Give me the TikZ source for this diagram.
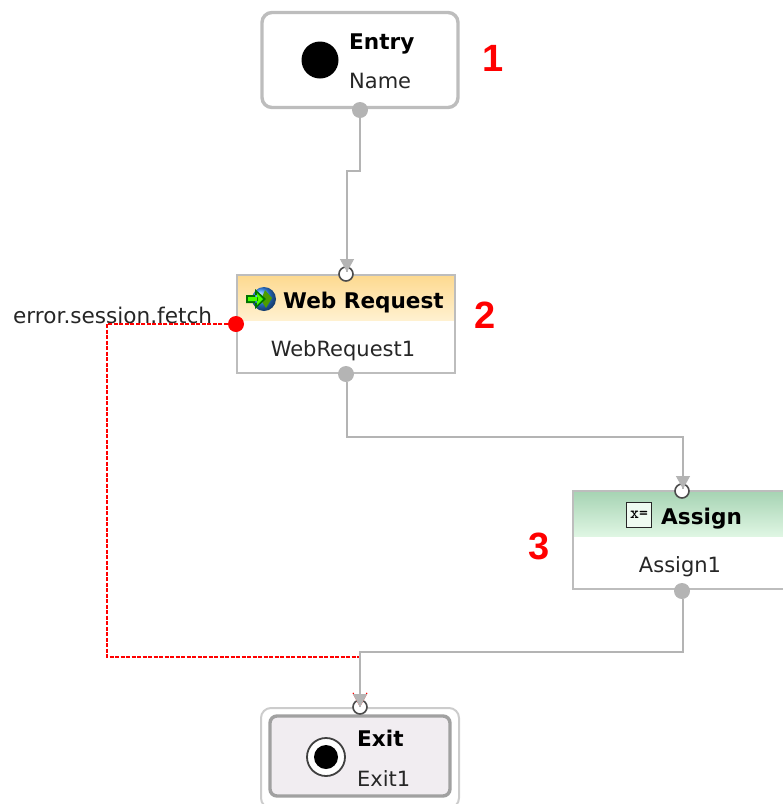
\documentclass[tikz,border=0pt]{standalone}
\usepackage{fontspec}
\setmainfont{DejaVu Sans}
\newfontfamily\numfont{Liberation Sans}
\usetikzlibrary{arrows.meta,shadings}
\definecolor{edgegray}{HTML}{B4B4B4}
\definecolor{boxgray}{HTML}{BDBDBD}
\definecolor{exitfill}{HTML}{F1EDF1}
\definecolor{webtop}{HTML}{FDD98F}
\definecolor{webbot}{HTML}{FFF1D0}
\definecolor{gtop}{HTML}{A6D3B3}
\definecolor{gbot}{HTML}{DFF6E3}
\definecolor{hatchg}{HTML}{EFFBF1}
\tikzset{
  x=1pt,y=-1pt,
  port/.style={circle,inner sep=0pt,minimum size=16pt,draw=none,fill=edgegray},
  inport/.style={circle,inner sep=0pt,minimum size=14pt,draw=black!70,line width=1.6pt,fill=white},
  errport/.style={circle,inner sep=0pt,minimum size=16pt,fill=red},
  wire/.style={draw=edgegray,line width=1.3pt},
  wirearrow/.style={wire,-{Triangle[length=13pt,width=14pt,color=edgegray]}},
  errwire/.style={draw=red,line width=1.1pt,dash pattern=on 4pt off 1.5pt},
  errarrow/.style={errwire,-{Straight Barb[length=13pt,width=14pt,color=red]}},
  title/.style={font=\bfseries\fontsize{21.6}{24}\selectfont,inner sep=0pt,anchor=base west},
  sub/.style={font=\fontsize{21}{24}\selectfont,inner sep=0pt,anchor=base west,text=black!85},
  num/.style={font=\numfont\bfseries\fontsize{38}{40}\selectfont,text=red,inner sep=0pt,anchor=base},
  plainbox/.style={rectangle,draw=boxgray,line width=1.4pt,inner sep=0pt},
  roundbox/.style={rectangle,rounded corners=10pt,inner sep=0pt},
}
\begin{document}
\begin{tikzpicture}
\useasboundingbox (0,0) rectangle (783,804);
\clip (0,0) rectangle (783,804);

% Entry
\node[roundbox,draw=boxgray,line width=3.4pt,fill=white,minimum width=196pt,minimum height=95pt] (entry) at (360,60) {};
\node[circle,fill=black,minimum size=37pt,inner sep=0pt] (entrydot) at (320,60) {};
\node[title] (entrytitle) at (349,49) {Entry};
\node[sub] (entryname) at (349,88) {Name};
\node[num] (n1) at (493,71) {1};

% Web Request
\fill[top color=webtop,bottom color=webbot] (237,275) rectangle (455,320);
\node[plainbox,minimum width=218pt,minimum height=98pt] (web) at (346,324) {};
\shade[ball color=blue!55!cyan!80!white] (264,299) circle (12pt);
\fill[green!45!black!70!yellow] (265,290) -- (272,298) -- (266,308) -- (261,300) -- cycle;
\fill[black!55!green] (246,295) rectangle (257,303) (255,289) -- (266,299) -- (255,309) -- cycle;
\fill[green!70!yellow] (248,297) rectangle (258,301) (257,293) -- (263,299) -- (257,305) -- cycle;
\node[title] (webtitle) at (283,308) {Web Request};
\node[sub,anchor=base] (webname) at (343,356) {WebRequest1};
\node[num] (n2) at (485,328) {2};

% Assign
\fill[top color=gtop,bottom color=gbot] (573,491) rectangle (783,536);
\draw[draw=boxgray,line width=1.4pt] (783,491) -- (573,491) -- (573,589) -- (783,589);
\node[rectangle,draw=black!85,fill=hatchg,line width=1.2pt,minimum width=25pt,minimum height=25pt,inner sep=0pt,font=\ttfamily\bfseries\fontsize{17}{17}\selectfont] (assignicon) at (639,515) {x=};
\node[title] (assigntitle) at (661,524) {Assign};
\node[sub,anchor=base] (assignname) at (680,572) {Assign1};
\node[num] (n3) at (539,559) {3};

% Exit
\node[roundbox,draw=black!20,line width=2pt,fill=white,minimum width=198pt,minimum height=100pt] (exitouter) at (360,758) {};
\node[roundbox,draw=boxgray!85!black,line width=3.4pt,fill=exitfill,minimum width=180pt,minimum height=80pt,rounded corners=7pt] (exitbox) at (360,756) {};
\node[circle,draw=black!75,line width=1.8pt,fill=white,minimum size=38pt,inner sep=0pt] (exitring) at (326,757) {};
\node[circle,fill=black,minimum size=24pt,inner sep=0pt] (exitdot) at (exitring) {};
\node[title] (exittitle) at (357,746) {Exit};
\node[sub] (exitname) at (357,786) {Exit1};

% Error label
\node[font=\fontsize{21.6}{24}\selectfont,inner sep=0pt,anchor=base west,text=black!85] (errlabel) at (13,323) {error.session.fetch};

% Ports
\node[port] (entryout) at (360,110) {};
\node[inport] (webin) at (346,274) {};
\node[port] (webout) at (346,374) {};
\node[errport] (weberr) at (236,324) {};
\node[inport] (assignin) at (682,491) {};
\node[port] (assignout) at (682,591) {};
\node[inport] (exitin) at (360,707) {};

% Bend points
\coordinate (b1) at (360,171);
\coordinate (b2) at (347,171);
\coordinate (t1) at (347,272);
\coordinate (b3) at (347,437);
\coordinate (b4) at (683,437);
\coordinate (t2) at (683,489);
\coordinate (b5) at (683,652);
\coordinate (b6) at (360,652);
\coordinate (t3) at (360,707);
\coordinate (e1) at (107,324);
\coordinate (e2) at (107,657);
\coordinate (e3) at (360,657);

% Connectors
\path[errarrow] (weberr.west) -- (e1) -- (e2) -- (e3) -- (t3);
\path[wire] (entryout) -- (b1) -- (b2) -- (t1);
\path[wirearrow] (b2) -- (t1);
\path[wire] (webout.south) ++(1,0) -- (b3) -- (b4) -- (t2);
\path[wirearrow] (b4) -- (t2);
\path[wire] (assignout.south) ++(1,0) -- (b5) -- (b6) -- (t3);
\path[wirearrow] (b6) -- (t3);
\end{tikzpicture}
\end{document}
